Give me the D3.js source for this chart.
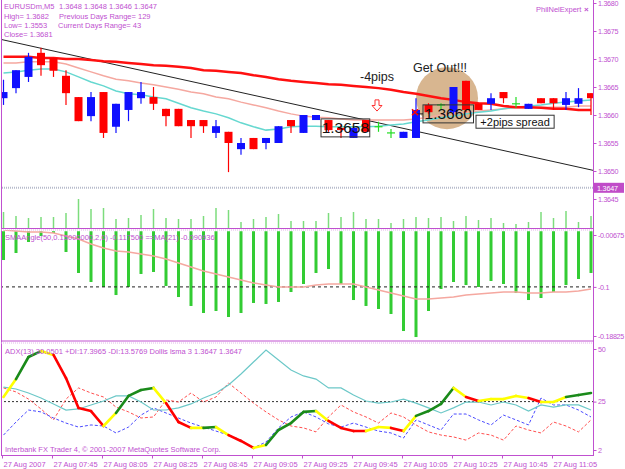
<!DOCTYPE html>
<html>
<head>
<meta charset="utf-8">
<script src="https://cdn.jsdelivr.net/npm/d3@7"></script>
<style>
  body { margin: 0; background: #fff; }
  svg { display: block; }
  text { font-family: "Liberation Sans", Arial, sans-serif; }
</style>
</head>
<body>
<svg id="chart" width="625" height="469"></svg>
<script>
// ---- data ----
const timeIdx = [0, 4, 8, 12, 16, 20, 24, 28, 32, 36, 40, 44];
const timeLabels = ["27 Aug 2007", "27 Aug 07:45", "27 Aug 08:05", "27 Aug 08:25", "27 Aug 08:45", "27 Aug 09:05",
    "27 Aug 09:25", "27 Aug 09:45", "27 Aug 10:05", "27 Aug 10:25", "27 Aug 10:45", "27 Aug 11:05"];

const opens = [1.36630,1.36648,1.36668,1.36711,1.36702,1.36670,1.36632,1.36598,1.36641,1.36579,
    1.36609,1.36630,1.36632,1.36611,1.36611,1.36591,1.36591,1.36568,1.36570,1.36539,
    1.36559,1.36550,1.36550,1.36591,1.36568,1.36591,1.36591,1.36577,1.36559,1.36591,
    1.36579,1.36568,1.36559,1.36559,1.36618,1.36618,1.36605,1.36661,1.36620,1.36620,
    1.36641,1.36620,1.36611,1.36630,1.36630,1.36618,1.36620,1.36639];
const highs = [1.36663,1.36680,1.36711,1.36720,1.36702,1.36680,1.36632,1.36641,1.36641,1.36620,
    1.36641,1.36659,1.36650,1.36611,1.36611,1.36591,1.36591,1.36591,1.36570,1.36559,
    1.36559,1.36559,1.36580,1.36591,1.36600,1.36600,1.36591,1.36582,1.36577,1.36591,
    1.36588,1.36575,1.36570,1.36630,1.36621,1.36621,1.36650,1.36661,1.36620,1.36639,
    1.36641,1.36632,1.36620,1.36630,1.36630,1.36641,1.36648,1.36639];
const lows = [1.36618,1.36639,1.36659,1.36670,1.36668,1.36618,1.36589,1.36589,1.36559,1.36568,
    1.36589,1.36620,1.36609,1.36580,1.36580,1.36559,1.36568,1.36559,1.36498,1.36529,
    1.36539,1.36539,1.36550,1.36568,1.36568,1.36591,1.36570,1.36559,1.36559,1.36570,
    1.36570,1.36559,1.36559,1.36559,1.36602,1.36609,1.36600,1.36605,1.36609,1.36609,
    1.36621,1.36613,1.36611,1.36621,1.36609,1.36609,1.36614,1.36600];
const closes = [1.36641,1.36680,1.36704,1.36689,1.36679,1.36639,1.36589,1.36632,1.36568,1.36620,
    1.36641,1.36641,1.36620,1.36598,1.36580,1.36580,1.36580,1.36580,1.36550,1.36550,
    1.36539,1.36559,1.36580,1.36580,1.36600,1.36600,1.36573,1.36573,1.36577,1.36570,
    1.36579,1.36568,1.36570,1.36609,1.36605,1.36618,1.36650,1.36609,1.36609,1.36630,
    1.36630,1.36620,1.36620,1.36621,1.36621,1.36630,1.36630,1.36630];

// moving averages on the price window
const maSlow = [1.36704,1.36704,1.36704,1.36702,1.36702,1.36700,1.36700,1.36698,1.36696,1.36695,
    1.36693,1.36691,1.36689,1.36688,1.36686,1.36684,1.36680,1.36679,1.36677,1.36675,
    1.36671,1.36668,1.36664,1.36661,1.36659,1.36657,1.36655,1.36654,1.36652,1.36650,
    1.36648,1.36645,1.36641,1.36638,1.36634,1.36630,1.36627,1.36623,1.36621,1.36620,
    1.36616,1.36614,1.36614,1.36613,1.36611,1.36611,1.36609,1.36609];
const maMid = [1.36693,1.36693,1.36695,1.36695,1.36695,1.36691,1.36684,1.36677,1.36670,1.36664,
    1.36661,1.36657,1.36654,1.36650,1.36646,1.36641,1.36638,1.36632,1.36629,1.36623,
    1.36618,1.36613,1.36607,1.36602,1.36598,1.36596,1.36595,1.36593,1.36591,1.36591,
    1.36591,1.36591,1.36591,1.36593,1.36596,1.36600,1.36604,1.36605,1.36607,1.36609,
    1.36611,1.36613,1.36613,1.36614,1.36614,1.36614,1.36616,1.36616];
const maFast = [1.36675,1.36677,1.36680,1.36682,1.36682,1.36677,1.36668,1.36659,1.36652,1.36643,
    1.36638,1.36636,1.36632,1.36629,1.36621,1.36613,1.36607,1.36602,1.36595,1.36586,
    1.36579,1.36573,1.36575,1.36579,1.36580,1.36580,1.36579,1.36579,1.36579,1.36579,
    1.36580,1.36582,1.36584,1.36588,1.36591,1.36595,1.36598,1.36602,1.36605,1.36607,
    1.36611,1.36614,1.36616,1.36618,1.36621,1.36623,1.36625,1.36627];

// tick volumes (green lines at the foot of the price window)
const volumes = [80,60,50,55,55,75,145,95,100,45,50,65,95,50,45,45,60,100,90,30,
    45,55,70,35,35,35,75,55,80,45,45,25,45,55,50,55,35,60,40,50,
    25,20,30,80,50,85,30,60];

// SMAAngle histogram and its MA(21)
const angleVals = [-0.0517,-0.0391,-0.0193,-0.0086,-0.0031,-0.0373,-0.0750,-0.0912,-0.1002,-0.1146,
    -0.1002,-0.0768,-0.0732,-0.0984,-0.1182,-0.1343,-0.1469,-0.1433,-0.1541,-0.1469,
    -0.1289,-0.1307,-0.1271,-0.1092,-0.0948,-0.0750,-0.0679,-0.0948,-0.1236,-0.1343,
    -0.1397,-0.1487,-0.1793,-0.1901,-0.1433,-0.1038,-0.0912,-0.0966,-0.1002,-0.0894,
    -0.0948,-0.1110,-0.1236,-0.1200,-0.1092,-0.0966,-0.0858,-0.0750];
const angleMA = [0.0022,0.0004,-0.0014,-0.0014,-0.0031,-0.0086,-0.0139,-0.0229,-0.0301,-0.0355,
    -0.0373,-0.0409,-0.0445,-0.0499,-0.0571,-0.0643,-0.0714,-0.0768,-0.0822,-0.0876,
    -0.0930,-0.0966,-0.1002,-0.1002,-0.1002,-0.0966,-0.0948,-0.0948,-0.0948,-0.1002,
    -0.1056,-0.1110,-0.1164,-0.1218,-0.1218,-0.1200,-0.1182,-0.1146,-0.1128,-0.1110,
    -0.1092,-0.1092,-0.1110,-0.1110,-0.1092,-0.1092,-0.1074,-0.1038];

// ADX window
const adxLine = [27.2,35.7,46.2,49.0,47.2,36.2,22.0,20.5,13.4,19.6,
    27.7,30.5,31.5,24.3,15.3,12.5,12.5,12.9,9.1,6.3,
    3.0,4.4,11.5,14.8,20.1,20.5,15.8,12.5,11.0,11.0,
    12.9,12.5,11.0,18.2,20.5,23.9,31.5,27.2,25.3,26.2,
    26.2,27.7,26.7,24.8,24.8,27.2,28.1,29.1];
const adxState = ['y','y','g','g','y','r','r','r','r','y','g','g','g','y','r','r','y','g','y','r',
    'r','y','g','g','g','g','y','r','r','r','y','y','r','y','g','g','g','y','r','y',
    'y','y','y','r','y','y','g','g'];
const adxMain = [31.9,31.0,29.1,26.7,23.9,21.0,21.5,23.4,25.3,27.7,
    27.7,24.8,21.0,21.0,22.0,23.9,26.7,29.1,32.9,38.1,
    43.8,49.5,44.8,40.0,37.2,35.7,31.5,31.5,28.1,25.3,
    24.3,24.8,26.2,24.3,22.0,19.6,22.0,24.8,24.8,23.4,
    24.8,23.4,20.5,23.4,22.4,23.4,23.4,21.0];
const diMinus = [31.5,29.6,26.2,21.5,16.3,26.2,31.5,29.1,27.2,22.4,
    20.1,17.2,17.7,25.8,24.8,29.1,24.8,27.2,33.8,29.1,
    24.3,20.1,16.3,13.4,12.5,10.6,17.7,23.4,20.1,17.7,
    14.8,19.6,17.7,13.9,10.6,9.1,8.2,6.7,10.1,9.1,
    6.7,13.4,11.5,10.1,15.3,13.4,10.6,16.3];
const diPlus = [9.1,15.3,21.0,20.1,17.2,14.8,12.9,13.9,13.4,10.1,
    12.9,18.6,22.0,19.6,17.2,14.8,12.9,11.0,9.1,6.7,
    3.0,5.8,12.5,17.7,20.1,17.7,14.4,12.9,14.8,12.9,
    11.0,10.1,7.7,16.3,13.9,11.5,19.1,19.1,16.3,13.9,
    18.6,16.3,13.9,26.7,23.4,23.4,21.0,17.7];

const priceTicks = [1.3680, 1.3675, 1.3670, 1.3665, 1.3660, 1.3655, 1.3650, 1.3645];
const angleTicks = [-0.00675, -0.1, -0.18825];
const adxTicks = [50, 25, 2];
const bidPrice = 1.3647;
const angleLevel = -0.1;
const adxLevel = 25;
const trendStart = {bar: 0, price: 1.36734};
const trendEnd = {bar: 47, price: 1.36502};

// ---- drawing ----
const svg = d3.select('#chart');
const purple = '#c050d0';
const axisX = 593;

const x = d3.scaleLinear().domain([0, 47]).range([3.5, 591]);
const yPrice = d3.scaleLinear().domain([1.3650, 1.3680]).range([171, 3]);
const yVol = d3.scaleLinear().domain([0, 145]).range([228, 199]);
const yAng = d3.scaleLinear().domain([-0.18825, -0.00675]).range([336, 235]);
const yAdx = d3.scaleLinear().domain([2, 50]).range([450, 349]);

const defs = svg.append('defs');
function addClip(id, y0, y1) {
    defs.append('clipPath').attr('id', id)
        .append('rect').attr('x', 2).attr('y', y0).attr('width', axisX - 2).attr('height', y1 - y0);
}
addClip('cMain', 0, 228);
addClip('cAng', 230, 340);
addClip('cAdx', 343, 455);

const main = svg.append('g').attr('clip-path', 'url(#cMain)');
const angG = svg.append('g').attr('clip-path', 'url(#cAng)');
const adxG = svg.append('g').attr('clip-path', 'url(#cAdx)');

// bid line
main.append('line')
    .attr('x1', 0).attr('x2', axisX)
    .attr('y1', yPrice(bidPrice)).attr('y2', yPrice(bidPrice))
    .style('stroke', '#b8bccc').style('stroke-width', 2).style('stroke-dasharray', '1,1');

// volumes
main.selectAll('line.vol').data(volumes).enter().append('line')
    .attr('class', 'vol')
    .attr('x1', (d, i) => x(i)).attr('x2', (d, i) => x(i))
    .attr('y1', yVol(0)).attr('y2', d => yVol(d))
    .style('stroke', '#7ddc7d').style('stroke-width', 1.5);

// "Get Out" highlight circle
main.append('circle')
    .attr('cx', x(35.48)).attr('cy', yPrice(1.36630)).attr('r', 31)
    .style('fill', '#d8b690');

// trend line, extended over the whole window
const trendAt = b => trendStart.price + (trendEnd.price - trendStart.price) * (b - trendStart.bar) / (trendEnd.bar - trendStart.bar);
main.append('line')
    .attr('x1', 0).attr('y1', yPrice(trendAt(x.invert(0))))
    .attr('x2', axisX).attr('y2', yPrice(trendAt(x.invert(axisX))))
    .style('stroke', '#222').style('stroke-width', 1);

const priceLine = d3.line().x((d, i) => x(i)).y(d => yPrice(d));
main.append('path').datum(maMid).attr('d', priceLine)
    .style('fill', 'none').style('stroke', '#f5a8a0').style('stroke-width', 1.5);
main.append('path').datum(maFast).attr('d', priceLine)
    .style('fill', 'none').style('stroke', '#66d8d0').style('stroke-width', 1.5);
main.append('path').datum(maSlow).attr('d', priceLine)
    .style('fill', 'none').style('stroke', '#ff1010').style('stroke-width', 2.5);

// candles
const candles = opens.map((o, i) => ({i, o, h: highs[i], l: lows[i], c: closes[i]}));
const candleColor = d => d.c > d.o ? '#1010ff' : d.c < d.o ? '#ff0000' : '#22dd22';
main.selectAll('line.wick').data(candles).enter().append('line')
    .attr('class', 'wick')
    .attr('x1', d => x(d.i)).attr('x2', d => x(d.i))
    .attr('y1', d => yPrice(d.h)).attr('y2', d => yPrice(d.l))
    .style('stroke', candleColor).style('stroke-width', 1.2);
main.selectAll('rect.body').data(candles.filter(d => d.c !== d.o)).enter().append('rect')
    .attr('class', 'body')
    .attr('x', d => x(d.i) - 4).attr('width', 8)
    .attr('y', d => yPrice(Math.max(d.o, d.c)))
    .attr('height', d => Math.max(1, Math.abs(yPrice(d.o) - yPrice(d.c))))
    .style('fill', candleColor);
main.selectAll('line.doji').data(candles.filter(d => d.c === d.o)).enter().append('line')
    .attr('class', 'doji')
    .attr('x1', d => x(d.i) - 4).attr('x2', d => x(d.i) + 4)
    .attr('y1', d => yPrice(d.o)).attr('y2', d => yPrice(d.o))
    .style('stroke', candleColor).style('stroke-width', 1.2);

// annotations
function note(text, bar, price, size) {
    main.append('text').attr('x', x(bar)).attr('y', yPrice(price)).attr('dy', '0.35em')
        .attr('text-anchor', 'middle').style('font-size', size + 'px').style('fill', '#222').text(text);
}
note('-4pips', 29.88, 1.36668, 12.5);
note('Get Out!!!', 34.92, 1.36684, 12.5);

function priceBox(text, barLeft, barRight, price, h, size) {
    const x0 = x(barLeft), x1 = x(barRight), yc = yPrice(price);
    main.append('rect').attr('x', x0).attr('y', yc - h / 2).attr('width', x1 - x0).attr('height', h)
        .style('fill', 'none').style('stroke', '#333').style('stroke-width', 1);
    main.append('text').attr('x', (x0 + x1) / 2).attr('y', yc).attr('dy', '0.36em')
        .attr('text-anchor', 'middle').style('font-size', size + 'px').style('fill', '#111').text(text);
}
priceBox('1.3658', 25.4, 29.3, 1.36577, 18, 15.5);
priceBox('1.3660', 33.56, 37.6, 1.36602, 18, 15.5);
priceBox('+2pips spread', 37.8, 44.05, 1.36588, 13, 11);

main.append('line')
    .attr('x1', x(33.0)).attr('x2', x(33.56))
    .attr('y1', yPrice(1.36602)).attr('y2', yPrice(1.36602))
    .style('stroke', '#222');

// red hollow arrow pointing down
const ax = x(29.88), ay0 = yPrice(1.36627), ay1 = yPrice(1.36607);
const ah = ay1 - ay0;
main.append('path')
    .attr('d', `M${ax - 2},${ay0} L${ax + 2},${ay0} L${ax + 2},${ay0 + ah * 0.5} L${ax + 5},${ay0 + ah * 0.5} L${ax},${ay1} L${ax - 5},${ay0 + ah * 0.5} L${ax - 2},${ay0 + ah * 0.5} Z`)
    .style('fill', '#fff').style('stroke', '#ff3030').style('stroke-width', 1);

// red x marker on the entry bar
const mx = x(32.92), my = yPrice(1.36605);
main.append('path')
    .attr('d', `M${mx - 3},${my - 3} L${mx + 3},${my + 3} M${mx - 3},${my + 3} L${mx + 3},${my - 3}`)
    .style('stroke', '#ff0000').style('stroke-width', 1.5);

// header text
const hdr = [
    ['EURUSDm,M5', 4, 9], ['1.3648 1.3648 1.3646 1.3647', 59, 9],
    ['High= 1.3682', 4, 19], ['Previous Days Range= 129', 59, 19],
    ['Low= 1.3553', 4, 28], ['Current Days Range= 43', 58, 28],
    ['Close= 1.3681', 4, 37]
];
svg.selectAll('text.hdr').data(hdr).enter().append('text')
    .attr('class', 'hdr')
    .attr('x', d => d[1]).attr('y', d => d[2])
    .style('font-size', '7.5px').style('fill', purple).text(d => d[0]);
svg.append('text').attr('x', 536).attr('y', 11.5)
    .style('font-size', '7.5px').style('fill', purple).text('PhilNelExpert');
svg.append('text').attr('x', 584).attr('y', 11.5)
    .style('font-size', '8px').style('fill', purple).style('font-weight', 'bold').text('×');

// ---- SMAAngle window ----
angG.selectAll('rect.ang').data(angleVals).enter().append('rect')
    .attr('class', 'ang')
    .attr('x', (d, i) => x(i) - 1.5).attr('width', 3)
    .attr('y', yAng(0)).attr('height', d => yAng(d) - yAng(0))
    .style('fill', '#33cc33');
angG.append('line')
    .attr('x1', 0).attr('x2', axisX)
    .attr('y1', yAng(angleLevel)).attr('y2', yAng(angleLevel))
    .style('stroke', '#222').style('stroke-dasharray', '3,3');
angG.append('path').datum(angleMA)
    .attr('d', d3.line().x((d, i) => x(i)).y(d => yAng(d)))
    .style('fill', 'none').style('stroke', '#f5a8a0').style('stroke-width', 1.5);
svg.append('text').attr('x', 5).attr('y', 240)
    .style('font-size', '7.5px').style('fill', purple)
    .text('SMAAngle(50,0.15000000,2,0) -0.117500  ==MA(21) -0.090936');

// ---- ADX window ----
svg.append('text').attr('x', 5).attr('y', 353.5)
    .style('font-size', '7.5px').style('fill', purple)
    .text('ADX(13) 30.0501 +DI:17.3965 -DI:13.5769  Dollis lsma 3 1.3647 1.3647');
svg.append('text').attr('x', 5).attr('y', 452)
    .style('font-size', '7.5px').style('fill', purple)
    .text('Interbank FX Trader 4, © 2001-2007 MetaQuotes Software Corp.');

const adxPath = d3.line().x((d, i) => x(i)).y(d => yAdx(d));
adxG.append('line')
    .attr('x1', 0).attr('x2', axisX)
    .attr('y1', yAdx(adxLevel)).attr('y2', yAdx(adxLevel))
    .style('stroke', '#333').style('stroke-dasharray', '2,2');
adxG.append('path').datum(diMinus).attr('d', adxPath)
    .style('fill', 'none').style('stroke', '#ff5050').style('stroke-dasharray', '3,2');
adxG.append('path').datum(diPlus).attr('d', adxPath)
    .style('fill', 'none').style('stroke', '#4a4aff').style('stroke-dasharray', '3,2');
adxG.append('path').datum(adxMain).attr('d', adxPath)
    .style('fill', 'none').style('stroke', '#6cc8c8').style('stroke-width', 1.2);

const stateColor = {g: '#1a8a1a', y: '#ffff00', r: '#ff0000'};
const segs = d3.range(1, adxLine.length).map(i => ({i, a: adxLine[i - 1], b: adxLine[i], s: adxState[i]}));
adxG.selectAll('line.adx').data(segs).enter().append('line')
    .attr('class', 'adx')
    .attr('x1', d => x(d.i - 1)).attr('x2', d => x(d.i))
    .attr('y1', d => yAdx(d.a)).attr('y2', d => yAdx(d.b))
    .style('stroke', d => stateColor[d.s]).style('stroke-width', 2.6)
    .style('stroke-linecap', 'round');

// ---- frames and axes ----
const frame = svg.append('g').style('stroke', purple).style('stroke-width', 1);
frame.append('line').attr('x1', 1.5).attr('x2', 1.5).attr('y1', 0).attr('y2', 455);
frame.append('line').attr('x1', axisX + 0.5).attr('x2', axisX + 0.5).attr('y1', 0).attr('y2', 456);
[228.5, 341, 455.5].forEach(yy => {
    frame.append('line').attr('x1', 1).attr('x2', axisX).attr('y1', yy).attr('y2', yy);
});
[230, 343].forEach(yy => {
    frame.append('line').attr('x1', 1).attr('x2', axisX).attr('y1', yy).attr('y2', yy)
        .style('stroke', '#e2b4ea').style('stroke-dasharray', '1,1');
});

function rightAxis(scale, ticks, fmt) {
    const g = svg.append('g').attr('transform', `translate(${axisX + 0.5},0)`)
        .call(d3.axisRight(scale).tickValues(ticks).tickFormat(fmt).tickSize(3).tickPadding(1.5));
    g.select('.domain').remove();
    g.selectAll('line').style('stroke', purple);
    g.selectAll('text').style('font-size', '7.2px').style('fill', purple)
        .style('letter-spacing', '-0.3px')
        .style('font-family', '"Liberation Sans", Arial, sans-serif');
}
rightAxis(yPrice, priceTicks, d3.format('.4f'));
rightAxis(yAng, angleTicks, d => String(d));
rightAxis(yAdx, adxTicks, d => String(d));

// bid price tag
const bidY = yPrice(bidPrice);
svg.append('rect').attr('x', axisX + 1).attr('y', bidY - 5).attr('width', 30).attr('height', 10)
    .style('fill', '#c04cc8');
svg.append('text').attr('x', axisX + 4).attr('y', bidY + 3)
    .style('font-size', '7.2px').style('letter-spacing', '-0.2px')
    .style('fill', '#fff').text(d3.format('.4f')(bidPrice));

// time axis
const tg = svg.append('g').attr('transform', 'translate(-1.5,455.5)')
    .call(d3.axisBottom(x).tickValues(timeIdx).tickFormat((d, i) => timeLabels[i]).tickSize(3).tickPadding(3));
tg.select('.domain').remove();
tg.selectAll('line').style('stroke', purple);
tg.selectAll('text').attr('text-anchor', 'start').attr('x', 1)
    .style('font-size', '7.5px').style('fill', purple)
    .style('font-family', '"Liberation Sans", Arial, sans-serif');
</script>
</body>
</html>
